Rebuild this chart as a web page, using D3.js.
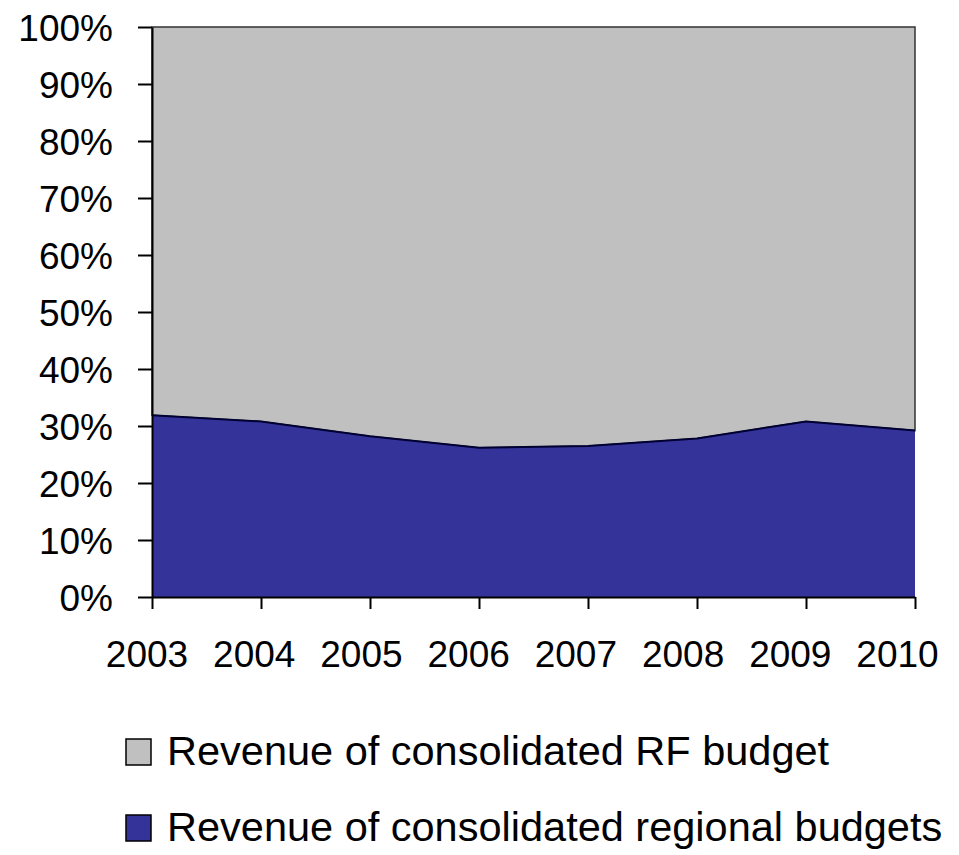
<!DOCTYPE html>
<html>
<head>
<meta charset="utf-8">
<script src="https://cdn.jsdelivr.net/npm/d3@7"></script>
<style>
  body { margin: 0; background: #fff; }
  text { font-family: "Liberation Sans", Arial, sans-serif; fill: #000; }
</style>
</head>
<body>
<div id="chart"></div>
<script>
// Data
const years = [2003, 2004, 2005, 2006, 2007, 2008, 2009, 2010];
const regionalShare = [31.9, 30.8, 28.2, 26.2, 26.5, 27.8, 30.8, 29.2]; // % of total
const federalShare = regionalShare.map(v => 100 - v);
const yTicks = [0, 10, 20, 30, 40, 50, 60, 70, 80, 90, 100];
const seriesNames = ["Revenue of consolidated RF budget", "Revenue of consolidated regional budgets"];
const seriesColors = ["#c0c0c0", "#333399"];

const W = 959, H = 855;
const margin = { top: 27, right: 44, bottom: 258, left: 152 },
      width = W - margin.left - margin.right,
      height = H - margin.top - margin.bottom;

const svg = d3.select("#chart")
              .append("svg")
              .attr("width", W)
              .attr("height", H)
              .append("g")
              .attr("transform", `translate(${margin.left},${margin.top})`);

const x = d3.scalePoint()
            .domain(years)
            .range([0, width]);

// category labels sit on a slightly narrower spread than the ticks
const xLabel = d3.scalePoint()
                 .domain(years)
                 .range([-5.5, width - 18]);

const y = d3.scaleLinear()
            .domain([0, 100])
            .range([height, 0]);

// stacked data: regional at bottom, federal on top
const table = years.map((yr, i) => ({ year: yr, regional: regionalShare[i], federal: federalShare[i] }));
const stack = d3.stack().keys(["regional", "federal"]);
const layers = stack(table);

const area = d3.area()
               .x(d => x(d.data.year))
               .y0(d => y(d[0]))
               .y1(d => y(d[1]));

// federal (grey) layer
svg.append("path")
   .datum(layers[1])
   .attr("fill", seriesColors[0])
   .attr("stroke", "#333")
   .attr("stroke-width", 1.5)
   .attr("d", area);

// regional (blue) layer
svg.append("path")
   .datum(layers[0])
   .attr("fill", seriesColors[1])
   .attr("d", area);

// boundary line between the two
svg.append("path")
   .datum(layers[0])
   .attr("fill", "none")
   .attr("stroke", "#000033")
   .attr("stroke-width", 2)
   .attr("d", d3.line().x(d => x(d.data.year)).y(d => y(d[1])));

// y axis
const yAxis = svg.append("g")
   .call(d3.axisLeft(y).tickValues(yTicks).tickFormat(d => d + "%").tickSize(14).tickSizeOuter(0));
yAxis.select(".domain").attr("stroke", "#000").attr("stroke-width", 2);
yAxis.selectAll(".tick line").attr("stroke", "#000").attr("stroke-width", 2);
yAxis.selectAll(".tick text")
     .attr("x", -39)
     .attr("dy", "0.36em")
     .style("font-size", "37px")
     .style("font-family", "Liberation Sans, Arial, sans-serif")
     .attr("fill", "#000");

// x axis
const xAxis = svg.append("g")
   .attr("transform", `translate(0, ${height})`)
   .call(d3.axisBottom(x).tickSize(12).tickSizeOuter(0));
xAxis.select(".domain").attr("stroke", "#000").attr("stroke-width", 2);
xAxis.selectAll(".tick line").attr("stroke", "#000").attr("stroke-width", 2);
xAxis.selectAll(".tick text")
     .attr("x", d => xLabel(d) - x(d))
     .attr("y", 70)
     .attr("dy", 0)
     .style("font-size", "37px")
     .style("font-family", "Liberation Sans, Arial, sans-serif")
     .attr("fill", "#000");

// legend
const legend = svg.append("g")
                  .attr("transform", `translate(${126 - margin.left}, ${739 - margin.top})`);

seriesNames.forEach((name, i) => {
    legend.append("rect")
          .attr("x", 0)
          .attr("y", i * 76)
          .attr("width", 25)
          .attr("height", 26)
          .attr("fill", seriesColors[i])
          .attr("stroke", "#000")
          .attr("stroke-width", 1.5);

    legend.append("text")
          .attr("x", 41)
          .attr("y", i * 76 + 26)
          .style("font-size", "41.5px")
          .text(name);
});
</script>
</body>
</html>
